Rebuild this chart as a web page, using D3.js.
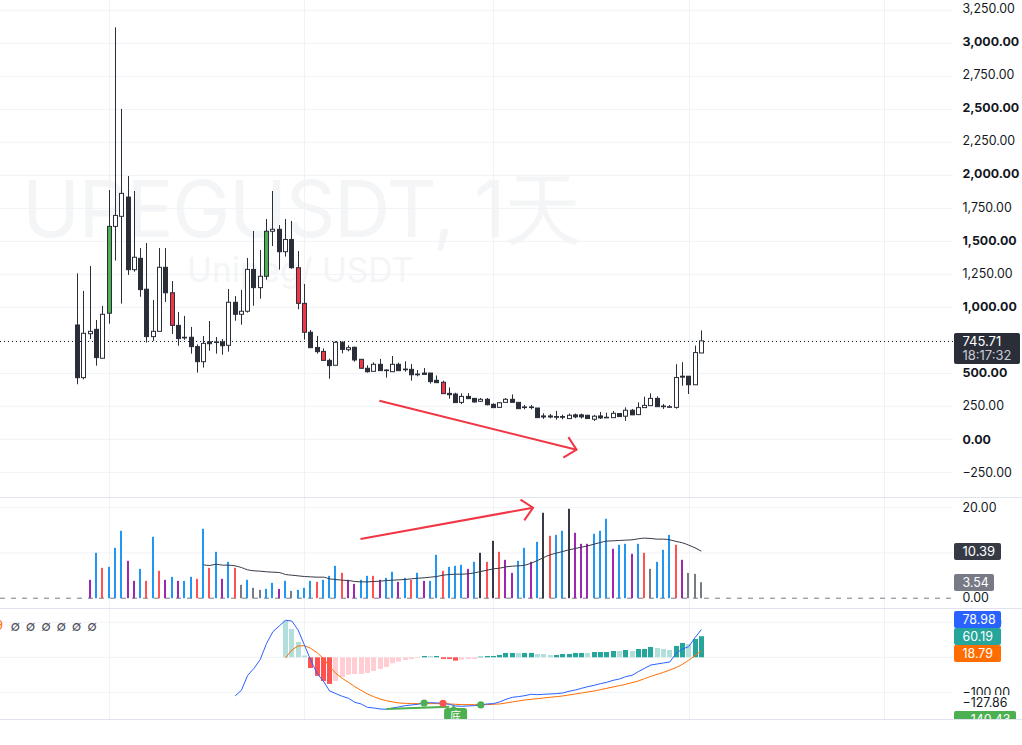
<!DOCTYPE html>
<html>
<head>
<meta charset="utf-8">
<script src="https://cdn.jsdelivr.net/npm/d3@7"></script>
<style>
    html, body { margin: 0; padding: 0; background: #fff; overflow: hidden; }
    text { font-family: Inter, "Noto Sans", sans-serif; }
</style>
</head>
<body>
<div id="chart"></div>
<script>
// candle values, one entry per daily bar
let opens = [866, 467, 800, 833, 614, 955, 1613, 1689, 1835, 1285, 1371, 1137, 778, 818, 1303, 1110, 863, 773, 773, 702,
    588, 738, 738, 738, 712, 1038, 947, 970, 1287, 1149, 1235, 1576, 1591, 1421, 1514, 1300, 1030, 811, 696, 666,
    598, 561, 735, 679, 697, 606, 538, 515, 568, 525, 512, 568, 532, 530, 494, 502, 502, 447, 432, 348,
    343, 280, 325, 310, 288, 303, 265, 242, 280, 303, 280, 245, 245, 237, 177, 177, 172, 172, 157, 185,
    185, 182, 152, 177, 164, 164, 195, 175, 220, 187, 240, 255, 310, 247, 242, 242, 478, 478, 413, 654]
let closes = [467, 803, 818, 619, 947, 1613, 1696, 1863, 1285, 1379, 1134, 778, 818, 1303, 1110, 863, 763, 768, 702, 588,
    727, 724, 733, 709, 1038, 947, 970, 1287, 1149, 1235, 1576, 1591, 1421, 1514, 1300, 1030, 811, 694, 664, 598,
    558, 735, 681, 694, 601, 538, 512, 568, 520, 520, 568, 520, 527, 489, 489, 492, 437, 429, 346, 338,
    278, 325, 308, 283, 303, 262, 240, 277, 303, 280, 232, 242, 242, 164, 169, 169, 167, 167, 182, 170,
    170, 157, 175, 162, 167, 197, 172, 220, 185, 240, 257, 310, 247, 252, 247, 468, 471, 413, 657, 745.71]
let highs = [1257, 1124, 1313, 904, 1010, 1888, 3121, 2503, 1995, 1881, 1449, 1487, 1055, 1449, 1449, 1199, 965, 935, 851, 719,
    783, 896, 775, 760, 1139, 1085, 1132, 1374, 1578, 1434, 1669, 1881, 1623, 1669, 1654, 1426, 1177, 828, 783, 689,
    611, 743, 743, 712, 702, 606, 561, 583, 609, 530, 631, 581, 591, 571, 525, 540, 502, 484, 444, 393,
    353, 348, 350, 313, 313, 313, 272, 280, 313, 340, 280, 260, 260, 237, 197, 192, 215, 187, 195, 195,
    195, 185, 185, 207, 202, 215, 197, 242, 230, 280, 323, 348, 325, 267, 260, 569, 584, 478, 710, 825]
let lows = [417, 454, 760, 558, 614, 876, 1354, 1028, 1245, 1270, 1080, 733, 745, 818, 1040, 798, 709, 753, 649, 505,
    543, 671, 649, 641, 664, 898, 868, 960, 1012, 1065, 1209, 1464, 1285, 1384, 1292, 985, 755, 694, 649, 598,
    459, 561, 651, 666, 588, 538, 505, 512, 520, 467, 512, 517, 512, 444, 477, 492, 422, 429, 346, 308,
    278, 267, 308, 278, 283, 257, 240, 242, 280, 280, 232, 227, 227, 164, 154, 159, 149, 152, 157, 159,
    157, 154, 139, 154, 164, 164, 172, 139, 185, 187, 240, 255, 247, 230, 242, 232, 406, 343, 413, 654]

// bars that carry the green or red signal colour
let greenBars = [5, 30]
let redBars = [15, 35, 36, 39, 45, 58]

// volume pane, first two bars have no volume
let volumes = [null, null, 4.06, 10.03, 6.71, 6.93, 11.14, 14.9, 8.26, 3.83, 6.49, 3.83, 13.57, 6.05, 4.06, 4.72, 3.83, 3.83, 4.72, 4.28,
    15.34, 6.71, 10.25, 4.28, 8.04, 6.71, 2.95, 4.06, 2.29, 1.84, 2.06, 3.39, 2.06, 3.83, 1.62, 1.84, 2.29, 3.83, 3.61, 4.06,
    4.94, 7.15, 5.6, 4.06, 3.17, 4.06, 4.94, 4.94, 4.06, 4.5, 5.83, 3.61, 4.5, 4.06, 5.6, 3.83, 3.83, 9.59, 6.05, 6.93,
    7.15, 7.37, 6.49, 8.04, 10.03, 8.04, 12.68, 10.25, 8.48, 5.6, 8.26, 11.14, 8.04, 12.46, 18.88, 13.79, 14, 14.9, 19.76, 14.45,
    12.02, 12.02, 14.23, 14.9, 17.55, 10.91, 11.8, 12.02, 9.81, 12.02, 10.03, 6.49, 8.04, 10.69, 14, 11.8, 8.48, 5.6, 5.38, 3.54]
let volumeKinds = "xxpbrbbbppbrbrpbpbbrbrbpbrgbggbbpbgbbbrbbbrppbbrpbbpbrbpbbrbbbpbdrdrppbbpbdrbbdpppbbbpbbpbrgbbbrpggg"
let volumeMa = [7.37, 7.23, 7.52, 7.3, 7.3, 7.15, 6.78, 6.27, 6.05, 5.97, 5.83, 5.75, 5.68, 5.24, 5.09, 4.94, 4.79, 4.72, 4.65, 4.65,
    4.28, 4.13, 3.98, 3.91, 3.69, 3.61, 3.61, 3.69, 3.76, 3.91, 3.98, 4.06, 4.13, 4.28, 4.42, 4.5, 4.65, 4.79, 5.09, 5.24,
    5.31, 5.31, 5.38, 5.6, 5.9, 6.19, 6.49, 6.64, 6.93, 7.08, 7.15, 7.3, 7.74, 8.33, 9, 9.59, 9.96, 10.32, 10.69, 10.99,
    11.28, 11.58, 11.95, 12.32, 12.61, 12.68, 12.76, 12.83, 12.9, 13.13, 13.27, 13.2, 13.05, 13.05, 12.9, 12.54, 12.24, 11.73, 11.14, 10.39]
let volumeMaStart = 20

// macd pane, the lines start later than the candles
let macdValues = [-110.5, -94.3, -51.5, -31.5, -5.8, 39.9, 73.2, 89.4, 105.6, 103.7, 78, 35.2, -7.7, -45.8, -67.7, -96.2, -103.8, -111.4, -117.2, -128.6,
    -133.3, -142.9, -144.8, -147.6, -148.6, -144.8, -141.9, -138.1, -136.2, -134.3, -130.5, -129.5, -130.5, -131.4, -134.3, -139, -140, -139, -138.1, -136.2,
    -133.3, -132.4, -127.6, -120, -114.3, -112.4, -109.5, -105.7, -106.7, -105.7, -104.8, -103.8, -101.9, -97.2, -93.4, -88.6, -83.8, -80, -75.3, -71.5,
    -65.8, -62, -55.3, -51.5, -41, -31.5, -22, -19.1, -16.2, -13.4, 11.4, 23.7, 30.4, 56.1, 78.98]
let macdStart = 25
let signalValues = [-2.2, 20.9, 32.3, 33.3, 25.6, 13.3, -2.9, -26.7, -45.8, -60, -71.5, -83.8, -94.3, -104.8, -112.4, -119.1, -123.8, -127.6, -130.5,
    -131.4, -132.4, -132.4, -132.4, -132.4, -132.4, -132.4, -133.3, -134.3, -135.2, -135.2, -135.2, -135.2, -135.2, -134.3, -133.3, -130.5, -127.6, -124.8, -121.9,
    -120, -118.1, -116.2, -114.3, -112.4, -110.5, -107.6, -104.8, -101.9, -99, -96.2, -92.4, -88.6, -84.8, -81, -77.2, -72.4, -67.7, -61, -54.3,
    -48.6, -42.9, -36.2, -29.6, -20, -8.6, 4.7, 18.79]
let signalStart = 33
let histValues = [105, 81, 44, 5, -30.5, -53, -67.6, -76, -67.6, -56, -49.5, -47.6, -47.6, -44.7, -39, -33, -27.6, -17, -12.4, -7.6,
    -4.8, -1.9, 3.8, 3.8, 3.8, -4.8, -4.8, -9.5, -6.7, -4.8, -4.8, 1.9, 3.8, 3.8, 6.7, 12.4, 12.4, 12.4, 12.4, 12.4,
    9.5, 9.5, 6.7, 6.7, 9.5, 9.5, 12.4, 12.4, 12.4, 15.2, 15.2, 15.2, 18.1, 18.1, 20.9, 18.1, 23.8, 23.8, 29.5, 26.7,
    23.8, 20.9, 32.4, 40.9, 38, 52.4, 60.19]
let histKinds = "llllrrrrpppppppppppppp" + "tltrrrppp" + "ttttttlttlll" + "tttttlttttltl" + "tttllltt" + "ltt"
let histStart = 33

// axis ticks, the grid has lines where the labels are hidden behind a tag
let priceTicks = [3250, 3000, 2750, 2500, 2250, 2000, 1750, 1500, 1250, 1000, 750, 500, 250, 0, -250]
let priceLabels = [3250, 3000, 2750, 2500, 2250, 2000, 1750, 1500, 1250, 1000, 500, 250, 0, -250]
let boldTicks = [3000, 2500, 2000, 1500, 1000, 500, 0]
let volumeTicks = [20, 10]
let volumeLabels = [20, 0]
let macdTicks = [100, 0, -100]
let macdLabels = [100, -100]
let timeTicks = [5, 36, 66, 97, 128]

// markers and hand drawn arrows, as [bar, value]
let macdDots = [[55, "#4caf50"], [58, "#ff5252"], [64, "#4caf50"]]
let bottomLine = [[49, -147.6], [59, -141]]
let priceArrow = [[47.9, 292], [79.2, -79]]
let priceArrowHead = [[77.9, 16.6], [79.2, -79], [77.1, -139]]
let volumeArrow = [[44.9, 13.1], [72.3, 20]]
let volumeArrowHead = [[70.3, 21.8], [72.3, 20], [70.9, 17.2]]

// colours
let inkColor = "#2a2e39"
let gridColor = "#f1f2f6"
let paneLine = "#e0e3eb"
let volumeColors = {b: "#2196f3", r: "#ff5252", p: "#9c27b0", g: "#787b86", d: "#363a45"}
let histColors = {l: "#b2dfdb", t: "#26a69a", r: "#ff5252", p: "#ffcdd2"}

// set the dimensions of the page and the panes
let width = 1022, height = 745, plotRight = 953
let labelX = 962.5
let labelSize = "12.4px"

let svg = d3.select("#chart")
    .append("svg")
    .attr("width", width)
    .attr("height", height)

// scales shared by the panes
let x = d3.scaleLinear().domain([0, 99]).range([77.6, 701.3])
let yPrice = d3.scaleLinear().domain([0, 3000]).range([439.3, 43.3])
let yVolume = d3.scaleLinear().domain([0, 20]).range([598.2, 507.7])
let yMacd = d3.scaleLinear().domain([-100, 100]).range([692.3, 622.3])

// the price labels sit a little tighter than the grid towards the top
let yPriceLabels = d3.scaleLinear().domain([0, 3000]).range([439.3, 41.7])

// clip the macd pane so nothing runs past its bottom edge
svg.append("clipPath").attr("id", "macd-clip")
    .append("rect")
    .attr("x", -10)
    .attr("y", 608)
    .attr("width", width + 20)
    .attr("height", 111)

// watermark behind everything
svg.append("text")
    .attr("x", 22)
    .attr("y", 237)
    .style("font-size", "78px")
    .style("letter-spacing", "-1.5px")
    .style("fill", "#f4f5f7")
    .text("UPEGUSDT, 1天")
svg.append("text")
    .attr("x", 187)
    .attr("y", 282)
    .style("font-size", "33.5px")
    .style("fill", "#f4f5f7")
    .text("Unipeg/ USDT")

// add the horizontal grid lines for each pane
function addGrid(scale, ticks) {
    svg.append("g").selectAll("line")
        .data(ticks)
        .enter()
        .append("line")
        .attr("x1", 0)
        .attr("x2", plotRight)
        .attr("y1", d => scale(d))
        .attr("y2", d => scale(d))
        .style("stroke", gridColor)
}
addGrid(yPrice, priceTicks)
addGrid(yVolume, volumeTicks)
addGrid(yMacd, macdTicks)

// add the vertical grid lines
svg.append("g").selectAll("line")
    .data(timeTicks)
    .enter()
    .append("line")
    .attr("x1", d => Math.round(x(d)) + 0.5)
    .attr("x2", d => Math.round(x(d)) + 0.5)
    .attr("y1", 0)
    .attr("y2", 719)
    .style("stroke", gridColor)

// add the pane separators
svg.append("g").selectAll("line")
    .data([497.5, 608.5, 719.5])
    .enter()
    .append("line")
    .attr("x1", 0)
    .attr("x2", width)
    .attr("y1", d => d)
    .attr("y2", d => d)
    .style("stroke", paneLine)

// add the dotted line at the last price
let lastPrice = closes[closes.length - 1]
svg.append("line")
    .attr("x1", 0)
    .attr("x2", plotRight)
    .attr("y1", Math.round(yPrice(lastPrice)) + 0.5)
    .attr("y2", Math.round(yPrice(lastPrice)) + 0.5)
    .style("stroke", "#131722")
    .style("stroke-dasharray", "1,3")

// add the candle wicks and bodies
let candles = svg.append("g")
    .selectAll("g")
    .data(opens.map((d, i) => i))
    .enter()
    .append("g")

candles.append("line")
    .attr("x1", i => Math.floor(x(i)) + 0.5)
    .attr("x2", i => Math.floor(x(i)) + 0.5)
    .attr("y1", i => yPrice(highs[i]))
    .attr("y2", i => yPrice(lows[i]))
    .style("stroke", inkColor)

candles.append("rect")
    .attr("x", i => Math.floor(x(i)) - 1.5)
    .attr("width", 4)
    .attr("y", i => yPrice(Math.max(opens[i], closes[i])))
    .attr("height", i => Math.max(0.6, Math.abs(yPrice(opens[i]) - yPrice(closes[i]))))
    .style("stroke", inkColor)
    .style("fill", function(i) {
        if (greenBars.includes(i)) return "#4caf50"
        if (redBars.includes(i)) return "#f23645"
        return closes[i] > opens[i] ? "#ffffff" : inkColor
    })

// add the zero line of the volume pane
svg.append("line")
    .attr("x1", 0)
    .attr("x2", plotRight)
    .attr("y1", yVolume(0))
    .attr("y2", yVolume(0))
    .style("stroke", "#787b86")
    .style("stroke-dasharray", "5,6")

// add the volume bars
svg.append("g").selectAll("rect")
    .data(volumes.map((v, i) => ({v: v, i: i})).filter(d => d.v !== null))
    .enter()
    .append("rect")
    .attr("x", d => Math.floor(x(d.i)) - 1)
    .attr("width", 2)
    .attr("y", d => yVolume(d.v))
    .attr("height", d => yVolume(0) - yVolume(d.v))
    .style("fill", d => volumeColors[volumeKinds[d.i]])

// add the volume average
let volumeLine = d3.line()
    .x((d, i) => x(i + volumeMaStart))
    .y(d => yVolume(d))
    .curve(d3.curveMonotoneX)
svg.append("path")
    .attr("d", volumeLine(volumeMa))
    .style("fill", "none")
    .style("stroke", "#363a45")

// add the macd histogram, clipped to the pane
let macdPane = svg.append("g").attr("clip-path", "url(#macd-clip)")
macdPane.selectAll(".hist-bar")
    .data(histValues)
    .enter()
    .append("rect")
    .classed("hist-bar", true)
    .attr("x", (d, i) => Math.floor(x(i + histStart)) - 2)
    .attr("width", 5)
    .attr("y", d => Math.min(yMacd(d), yMacd(0)))
    .attr("height", d => Math.abs(yMacd(d) - yMacd(0)))
    .style("fill", (d, i) => histColors[histKinds[i]])

// add the macd and signal lines
function addMacdLine(values, start, color) {
    let line = d3.line()
        .x((d, i) => x(i + start))
        .y(d => yMacd(d))
    macdPane.append("path")
        .attr("d", line(values))
        .style("fill", "none")
        .style("stroke", color)
}
addMacdLine(signalValues, signalStart, "#ff6d00")
addMacdLine(macdValues, macdStart, "#2962ff")

// add the green divergence line
macdPane.append("line")
    .attr("x1", x(bottomLine[0][0]))
    .attr("x2", x(bottomLine[1][0]))
    .attr("y1", yMacd(bottomLine[0][1]))
    .attr("y2", yMacd(bottomLine[1][1]))
    .style("stroke", "#4caf50")
    .style("stroke-width", 2)

// add the badge under the divergence
let badgeX = x(60)
macdPane.append("path")
    .attr("d", "M" + (badgeX - 6) + ",709 L" + (badgeX - 2) + ",705.5 L" + (badgeX + 2) + ",709 Z")
    .style("fill", "#4caf50")
macdPane.append("rect")
    .attr("x", badgeX - 11.5)
    .attr("y", 708)
    .attr("width", 23)
    .attr("height", 20)
    .attr("rx", 3)
    .style("fill", "#4caf50")
macdPane.append("text")
    .attr("x", badgeX)
    .attr("y", 720)
    .style("text-anchor", "middle")
    .style("font-family", "'Noto Sans CJK SC'")
    .style("font-size", "11px")
    .style("fill", "#ffffff")
    .text("底")

// add the dots on the macd line
macdPane.selectAll("circle")
    .data(macdDots)
    .enter()
    .append("circle")
    .attr("cx", d => x(d[0]))
    .attr("cy", d => yMacd(macdValues[d[0] - macdStart]))
    .attr("r", 3.6)
    .style("fill", d => d[1])

// add the two red arrows drawn on top of the chart
function addArrow(points, scale) {
    let line = d3.line().x(d => x(d[0])).y(d => scale(d[1]))
    svg.append("path")
        .attr("d", line(points))
        .style("fill", "none")
        .style("stroke", "#f23645")
        .style("stroke-width", 2)
}
addArrow(priceArrow, yPrice)
addArrow(priceArrowHead, yPrice)
addArrow(volumeArrow, yVolume)
addArrow(volumeArrowHead, yVolume)

// add the axis labels, all starting at the same x
function addAxis(scale, ticks, shift) {
    let g = svg.append("g")
        .attr("transform", "translate(" + labelX + ",0)")
        .call(d3.axisRight(scale)
            .tickValues(ticks)
            .tickSize(0)
            .tickPadding(0)
            .tickFormat(d3.format(",.2f")))
    g.select(".domain").remove()
    g.selectAll("text")
        .attr("dy", shift)
        .style("font-family", "Inter, 'Noto Sans', sans-serif")
        .style("font-size", labelSize)
        .style("fill", "#131722")
    return g
}
addAxis(yPriceLabels, priceLabels, "0.3em")
    .selectAll("text")
    .style("font-weight", d => boldTicks.includes(d) ? 700 : 400)
addAxis(yVolume, volumeLabels, "0.3em")
addAxis(yMacd, macdLabels, "0.32em")

// add the coloured value tags
function addTag(text, top, tagHeight, tagWidth, color, textColor, size) {
    svg.append("rect")
        .attr("x", 954)
        .attr("y", top)
        .attr("width", tagWidth)
        .attr("height", tagHeight)
        .attr("rx", 2)
        .style("fill", color)
    svg.append("text")
        .attr("x", labelX)
        .attr("y", top + tagHeight / 2)
        .attr("dy", "0.36em")
        .style("font-size", size)
        .style("fill", textColor)
        .text(text)
}
let valueFormat = d3.format(",.2f")

// the last price tag has the countdown under the price
svg.append("rect")
    .attr("x", 954)
    .attr("y", 333)
    .attr("width", 66)
    .attr("height", 31)
    .attr("rx", 2)
    .style("fill", inkColor)
svg.append("text")
    .attr("x", labelX)
    .attr("y", 346)
    .style("font-size", "13px")
    .style("fill", "#ffffff")
    .text(valueFormat(lastPrice))
svg.append("text")
    .attr("x", labelX)
    .attr("y", 360)
    .style("font-size", "13px")
    .style("fill", "#c9cbd1")
    .text("18:17:32")

addTag(valueFormat(volumeMa[volumeMa.length - 1]), 543, 17, 47, "#363a45", "#ffffff", "13px")
addTag(valueFormat(volumes[volumes.length - 1]), 574, 17, 40, "#787b86", "#ffffff", labelSize)
addTag(valueFormat(macdValues[macdValues.length - 1]), 611, 17, 47, "#2962ff", "#ffffff", labelSize)
addTag(valueFormat(histValues[histValues.length - 1]), 628, 17, 47, "#26a69a", "#ffffff", labelSize)
addTag(valueFormat(signalValues[signalValues.length - 1]), 645, 17, 47, "#ff6d00", "#ffffff", labelSize)

// the white tag hides the bottom of the -100 label
addTag(valueFormat(-127.86), 695, 16, 60, "#ffffff", "#131722", labelSize)

// the last tag is cut off by the end of the pane
let bottomTag = svg.append("g").attr("clip-path", "url(#macd-clip)")
bottomTag.append("rect")
    .attr("x", 954)
    .attr("y", 711)
    .attr("width", 62)
    .attr("height", 17)
    .attr("rx", 2)
    .style("fill", "#4caf50")
bottomTag.append("text")
    .attr("x", labelX)
    .attr("y", 724)
    .style("font-size", labelSize)
    .style("fill", "#ffffff")
    .text(valueFormat(-140.43))

// add the orange end of the legend and the empty value marks
svg.append("text")
    .attr("x", -5)
    .attr("y", 630)
    .style("font-size", "13px")
    .style("fill", "#ff6d00")
    .text("9")
svg.append("g").selectAll("text")
    .data(d3.range(6))
    .enter()
    .append("text")
    .attr("x", d => 15.3 + d * 15.33)
    .attr("y", 631)
    .style("text-anchor", "middle")
    .style("font-family", "Inter")
    .style("font-size", "14px")
    .style("fill", "#50535e")
    .text("∅")
</script>
</body>
</html>
